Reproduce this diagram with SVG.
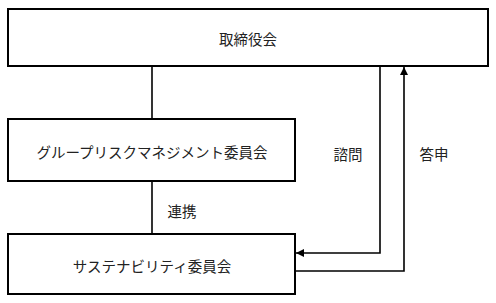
<svg xmlns="http://www.w3.org/2000/svg" width="496" height="303" viewBox="0 0 496 303">
<style>
.box{fill:#fff;stroke:#000;stroke-width:2}
.ln{fill:none;stroke:#000;stroke-width:1.6}
text{font-family:"Noto Sans CJK JP","Liberation Serif",serif;font-size:14.5px;fill:#222;text-anchor:middle;dominant-baseline:central}
</style>
<defs>
<marker id="ah" viewBox="0 0 10 10" refX="10" refY="5" markerWidth="5" markerHeight="5" orient="auto" markerUnits="strokeWidth">
<path d="M0,0 L10,5 L0,10 Z" fill="#000"/>
</marker>
</defs>
<g id="connectors">
<path class="ln" d="M152,66 V119"/>
<path class="ln" d="M152,181 V234"/>
<path class="ln" d="M380,66 V253 H296" marker-end="url(#ah)"/>
<path class="ln" d="M295,271 H404 V67" marker-end="url(#ah)"/>
<text x="348" y="153">諮問</text>
<text x="434" y="153">答申</text>
<text x="182" y="210">連携</text>
</g>
<g id="board"><rect class="box" x="8" y="9" width="480" height="57"/><text x="248" y="38">取締役会</text></g>
<g id="grm"><rect class="box" x="8" y="119" width="287" height="62"/><text x="152" y="151">グループリスクマネジメント委員会</text></g>
<g id="sus"><rect class="box" x="8" y="234" width="287" height="60"/><text x="152" y="265">サステナビリティ委員会</text></g>
</svg>
